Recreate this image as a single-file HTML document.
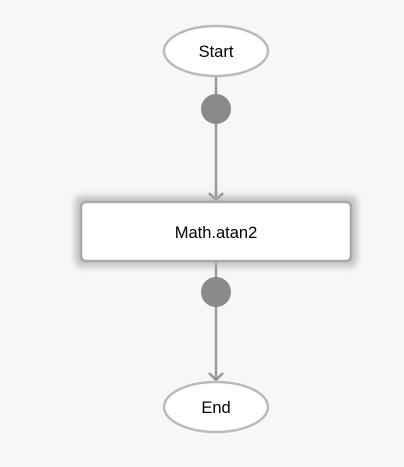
<!DOCTYPE html>
<html><head><style>
html,body{margin:0;padding:0;background:#f7f7f7;}
</style></head><body>
<svg width="404" height="462" viewBox="0 0 404 462" xmlns="http://www.w3.org/2000/svg">
<defs>
<filter id="g" x="-20%" y="-50%" width="140%" height="200%"><feGaussianBlur stdDeviation="3.5"/></filter>
</defs>
<rect width="404" height="462" fill="#f7f7f7"/>
<line x1="216" y1="77" x2="216" y2="200" stroke="#999" stroke-width="2.5"/>
<polyline points="209,193 216,200 223,193" fill="none" stroke="#999" stroke-width="2.5"/>
<line x1="216" y1="261" x2="216" y2="380" stroke="#999" stroke-width="2.5"/>
<polyline points="209,373 216,380 223,373" fill="none" stroke="#999" stroke-width="2.5"/>
<ellipse cx="216" cy="51" rx="52" ry="25" fill="#fff" stroke="#bbb" stroke-width="2.5"/>
<text x="216" y="57" text-anchor="middle" font-family="Liberation Sans, sans-serif" font-size="16.5" fill="#000">Start</text>
<circle cx="216" cy="109" r="15" fill="#8a8a8a"/>
<rect x="75" y="196" width="282" height="71" rx="6" fill="#aaa" filter="url(#g)" opacity="0.7"/>
<rect x="81" y="202" width="270" height="59" rx="5" fill="#fff" stroke="#aaa" stroke-width="2.5"/>
<text x="216" y="238" text-anchor="middle" font-family="Liberation Sans, sans-serif" font-size="16.5" fill="#000">Math.atan2</text>
<circle cx="216" cy="292" r="15" fill="#8a8a8a"/>
<ellipse cx="216" cy="407" rx="52" ry="25" fill="#fff" stroke="#bbb" stroke-width="2.5"/>
<text x="216" y="413" text-anchor="middle" font-family="Liberation Sans, sans-serif" font-size="16.5" fill="#000">End</text>
</svg>
</body></html>
